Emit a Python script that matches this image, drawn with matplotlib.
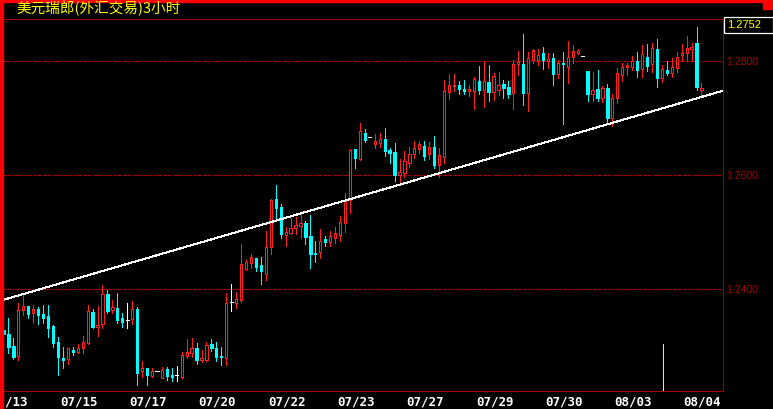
import matplotlib.pyplot as plt
from matplotlib.patches import Rectangle
import numpy as np

# ==========================================
# USD/CHF 3-hour candles
# ==========================================
title = '美元瑞郎(外汇交易)3小时'
last_price = '1.2752'

opens = [
    1.2328, 1.2321, 1.2300, 1.2282, 1.2363, 1.2370, 1.2358, 1.2365, 1.2356, 1.2353,
    1.2335, 1.2307, 1.2279, 1.2277, 1.2293, 1.2289, 1.2296, 1.2305, 1.2360, 1.2333,
    1.2339, 1.2391, 1.2363, 1.2367, 1.2349, 1.2346, 1.2347, 1.2365, 1.2256, 1.2261,
    1.2247, 1.2256, 1.2244, 1.2260, 1.2249, 1.2249, 1.2246, 1.2282, 1.2288, 1.2296,
    1.2275, 1.2275, 1.2304, 1.2296, 1.2282, 1.2279, 1.2377, 1.2375, 1.2381, 1.2435,
    1.2446, 1.2454, 1.2442, 1.2426, 1.2474, 1.2558, 1.2544, 1.2495, 1.2498, 1.2507,
    1.2511, 1.2516, 1.2493, 1.2463, 1.2465, 1.2488, 1.2482, 1.2489, 1.2495, 1.2516,
    1.2556, 1.2646, 1.2628, 1.2674, 1.2667, 1.2654, 1.2656, 1.2663, 1.2644, 1.2640,
    1.2600, 1.2604, 1.2621, 1.2637, 1.2646, 1.2651, 1.2637, 1.2649, 1.2618, 1.2632,
    1.2746, 1.2756, 1.2758, 1.2751, 1.2747, 1.2747, 1.2765, 1.2749, 1.2763, 1.2746,
    1.2749, 1.2760, 1.2754, 1.2744, 1.2795, 1.2795, 1.2744, 1.2802, 1.2802, 1.2814,
    1.2800, 1.2805, 1.2777, 1.2797, 1.2789, 1.2807, 1.2814, 1.2809, 1.2782, 1.2742,
    1.2751, 1.2735, 1.2753, 1.2700, 1.2735, 1.2775, 1.2789, 1.2789, 1.2800, 1.2786,
    1.2807, 1.2795, 1.2821, 1.2770, 1.2784, 1.2779, 1.2788, 1.2811, 1.2814, 1.2821,
    1.2832, 1.2749]

highs = [
    1.2340, 1.2349, 1.2314, 1.2375, 1.2389, 1.2370, 1.2372, 1.2368, 1.2372, 1.2372,
    1.2337, 1.2316, 1.2298, 1.2296, 1.2298, 1.2304, 1.2318, 1.2372, 1.2365, 1.2370,
    1.2407, 1.2398, 1.2381, 1.2393, 1.2358, 1.2375, 1.2379, 1.2368, 1.2274, 1.2261,
    1.2261, 1.2256, 1.2263, 1.2263, 1.2261, 1.2265, 1.2289, 1.2312, 1.2314, 1.2305,
    1.2293, 1.2307, 1.2312, 1.2307, 1.2298, 1.2393, 1.2409, 1.2395, 1.2479, 1.2451,
    1.2461, 1.2454, 1.2456, 1.2502, 1.2558, 1.2582, 1.2549, 1.2509, 1.2525, 1.2526,
    1.2537, 1.2519, 1.2530, 1.2484, 1.2505, 1.2493, 1.2502, 1.2509, 1.2528, 1.2568,
    1.2646, 1.2646, 1.2691, 1.2681, 1.2667, 1.2672, 1.2674, 1.2682, 1.2647, 1.2656,
    1.2628, 1.2642, 1.2649, 1.2660, 1.2660, 1.2660, 1.2658, 1.2668, 1.2647, 1.2767,
    1.2777, 1.2777, 1.2765, 1.2767, 1.2758, 1.2772, 1.2791, 1.2800, 1.2793, 1.2779,
    1.2781, 1.2767, 1.2765, 1.2802, 1.2818, 1.2847, 1.2816, 1.2821, 1.2821, 1.2825,
    1.2814, 1.2814, 1.2802, 1.2816, 1.2835, 1.2828, 1.2821, 1.2809, 1.2782, 1.2781,
    1.2784, 1.2756, 1.2760, 1.2742, 1.2788, 1.2797, 1.2797, 1.2809, 1.2816, 1.2828,
    1.2830, 1.2832, 1.2839, 1.2793, 1.2800, 1.2805, 1.2816, 1.2830, 1.2844, 1.2832,
    1.2860, 1.2761]

lows = [
    1.2316, 1.2288, 1.2277, 1.2275, 1.2354, 1.2349, 1.2340, 1.2339, 1.2340, 1.2316,
    1.2298, 1.2249, 1.2261, 1.2268, 1.2284, 1.2288, 1.2288, 1.2304, 1.2332, 1.2318,
    1.2332, 1.2358, 1.2358, 1.2340, 1.2333, 1.2332, 1.2339, 1.2232, 1.2246, 1.2232,
    1.2246, 1.2256, 1.2244, 1.2240, 1.2239, 1.2239, 1.2244, 1.2279, 1.2281, 1.2268,
    1.2272, 1.2274, 1.2291, 1.2274, 1.2267, 1.2267, 1.2361, 1.2367, 1.2377, 1.2433,
    1.2437, 1.2432, 1.2409, 1.2416, 1.2461, 1.2521, 1.2489, 1.2475, 1.2496, 1.2496,
    1.2489, 1.2479, 1.2437, 1.2447, 1.2454, 1.2475, 1.2475, 1.2481, 1.2484, 1.2500,
    1.2533, 1.2612, 1.2626, 1.2658, 1.2667, 1.2647, 1.2649, 1.2633, 1.2621, 1.2589,
    1.2586, 1.2596, 1.2614, 1.2630, 1.2639, 1.2626, 1.2628, 1.2612, 1.2596, 1.2621,
    1.2733, 1.2747, 1.2742, 1.2742, 1.2739, 1.2716, 1.2742, 1.2719, 1.2730, 1.2732,
    1.2740, 1.2735, 1.2735, 1.2716, 1.2775, 1.2723, 1.2712, 1.2797, 1.2793, 1.2786,
    1.2788, 1.2758, 1.2770, 1.2689, 1.2761, 1.2797, 1.2812, 1.2809, 1.2730, 1.2730,
    1.2730, 1.2728, 1.2693, 1.2686, 1.2726, 1.2765, 1.2775, 1.2784, 1.2772, 1.2772,
    1.2782, 1.2781, 1.2754, 1.2763, 1.2775, 1.2772, 1.2781, 1.2800, 1.2800, 1.2800,
    1.2749, 1.2737]

closes = [
    1.2321, 1.2298, 1.2281, 1.2363, 1.2370, 1.2356, 1.2365, 1.2354, 1.2349, 1.2332,
    1.2305, 1.2281, 1.2275, 1.2296, 1.2289, 1.2296, 1.2307, 1.2361, 1.2333, 1.2337,
    1.2391, 1.2361, 1.2368, 1.2346, 1.2342, 1.2346, 1.2365, 1.2253, 1.2261, 1.2249,
    1.2256, 1.2256, 1.2258, 1.2247, 1.2246, 1.2249, 1.2284, 1.2289, 1.2296, 1.2275,
    1.2279, 1.2302, 1.2296, 1.2281, 1.2281, 1.2375, 1.2377, 1.2382, 1.2444, 1.2447,
    1.2456, 1.2439, 1.2432, 1.2474, 1.2556, 1.2542, 1.2496, 1.2500, 1.2507, 1.2512,
    1.2516, 1.2491, 1.2461, 1.2461, 1.2484, 1.2482, 1.2493, 1.2498, 1.2518, 1.2554,
    1.2644, 1.2630, 1.2677, 1.2661, 1.2667, 1.2660, 1.2663, 1.2642, 1.2639, 1.2600,
    1.2605, 1.2625, 1.2637, 1.2647, 1.2654, 1.2633, 1.2649, 1.2618, 1.2635, 1.2747,
    1.2758, 1.2758, 1.2751, 1.2747, 1.2751, 1.2768, 1.2749, 1.2765, 1.2746, 1.2774,
    1.2758, 1.2753, 1.2742, 1.2795, 1.2798, 1.2744, 1.2805, 1.2819, 1.2811, 1.2802,
    1.2804, 1.2777, 1.2797, 1.2795, 1.2807, 1.2818, 1.2818, 1.2809, 1.2742, 1.2749,
    1.2735, 1.2753, 1.2700, 1.2735, 1.2779, 1.2789, 1.2793, 1.2800, 1.2784, 1.2812,
    1.2791, 1.2823, 1.2770, 1.2786, 1.2779, 1.2789, 1.2807, 1.2814, 1.2823, 1.2825,
    1.2754, 1.2752]

date_labels = ['07/13', '07/15', '07/17', '07/20', '07/22', '07/23',
               '07/27', '07/29', '07/30', '08/03', '08/04']
price_ticks = [1.2400, 1.2600, 1.2800]

# hand-drawn trend line: (bar index, price) at both ends
trend_start = (0, 1.2381)
trend_end = (145, 1.2747)

# lone yellow marker near the bottom right
marker_bar = 133.2
marker_top = 1.2304

# ==========================================
# Figure
# ==========================================
W, H = 773, 409
PX = 0.72  # one pixel in points at 100 dpi
DARK_RED = '#a80000'
UP = '#ff2020'
DOWN = '#00ffff'

fig = plt.figure(figsize=(W / 100, H / 100), dpi=100, facecolor='black')
ax = fig.add_axes([3 / W, 1 - 391 / H, 720 / W, (391 - 19) / H], facecolor='black')

o = np.array(opens)
h = np.array(highs)
l = np.array(lows)
c = np.array(closes)
x = np.arange(len(o))

up = c > o
down = c < o
flat = ~(up | down)
bw = 0.45

# wicks
ax.vlines(x[up], l[up], h[up], color=UP, linewidth=PX, antialiased=False, zorder=2)
ax.vlines(x[down], l[down], h[down], color=DOWN, linewidth=PX, antialiased=False, zorder=2)
ax.vlines(x[flat], l[flat], h[flat], color='white', linewidth=PX, antialiased=False, zorder=2)

# bodies: red hollow for up, cyan solid for down, white dash for doji
ax.bar(x[up], (c - o)[up], bottom=o[up], width=bw, facecolor='black',
       edgecolor=UP, linewidth=PX, antialiased=False, zorder=3)
ax.bar(x[down], (o - c)[down], bottom=c[down], width=bw, facecolor=DOWN,
       edgecolor=DOWN, linewidth=PX, antialiased=False, zorder=3)
ax.hlines(o[flat], x[flat] - bw / 2 - 0.1, x[flat] + bw / 2 + 0.1, color='white',
          linewidth=PX, antialiased=False, zorder=3)

xlim = (-0.1, 145.35)
ylim = (1.2221, 1.28737)
ax.set_xlim(*xlim)
ax.set_ylim(*ylim)

# trend line across the whole panel
slope = (trend_end[1] - trend_start[1]) / (trend_end[0] - trend_start[0])
tx = np.array(xlim)
ax.plot(tx, trend_start[1] + slope * (tx - trend_start[0]), color='white',
        linewidth=PX, antialiased=False, zorder=4)

ax.vlines(marker_bar, ylim[0], marker_top, color='#ffff00', linewidth=PX,
          antialiased=False, zorder=2)

# grid
for p in price_ticks:
    ax.axhline(p, color=DARK_RED, linewidth=PX, linestyle=(0, (3, 2)),
               antialiased=False, zorder=1)

# axes styling
for side in ['top', 'right', 'bottom']:
    ax.spines[side].set_color(DARK_RED)
    ax.spines[side].set_linewidth(PX)
ax.spines['left'].set_visible(False)

ax.set_xticks([1.2 + 14 * k for k in range(len(date_labels))])
ax.set_xticklabels(date_labels, color='white', fontsize=9,
                   fontfamily='DejaVu Sans Mono', fontweight='bold')
ax.tick_params(axis='x', length=0, pad=3)

ax.yaxis.tick_right()
ax.set_yticks(price_ticks)
ax.set_yticklabels([f'{p:.4f}' for p in price_ticks], color=DARK_RED,
                   fontsize=7.5, fontfamily='Liberation Sans')
ax.tick_params(axis='y', length=0, pad=2)

# frame decorations
fig.patches.append(Rectangle((0, 0), 3 / W, 1, transform=fig.transFigure,
                             color='#ff0000', zorder=5))
fig.patches.append(Rectangle((0, 1 - 1.6 / H), 1, 1.6 / H, transform=fig.transFigure,
                             color='#ff0000', zorder=5))
fig.patches.append(Rectangle((763 / W, 1 - 9 / H), 10 / W, 9 / H,
                             transform=fig.transFigure, color='#ff0000', zorder=5))

# last price box
fig.patches.append(Rectangle((723.5 / W, 1 - 33 / H), 49 / W, 16.5 / H,
                             transform=fig.transFigure, facecolor='black',
                             edgecolor='white', linewidth=0.9, zorder=5))
fig.text(727 / W, 1 - 25 / H, last_price, color='#ffff00', fontsize=8,
         fontfamily='Liberation Sans', ha='left', va='center', zorder=6)

fig.text(16 / W, 1 - 13.5 / H, title, color='#ffff00', fontsize=10.5,
         family=['Noto Sans CJK SC', 'DejaVu Sans'], ha='left', va='baseline',
         zorder=6)

fig.savefig('out.png', dpi=100, facecolor='black')
